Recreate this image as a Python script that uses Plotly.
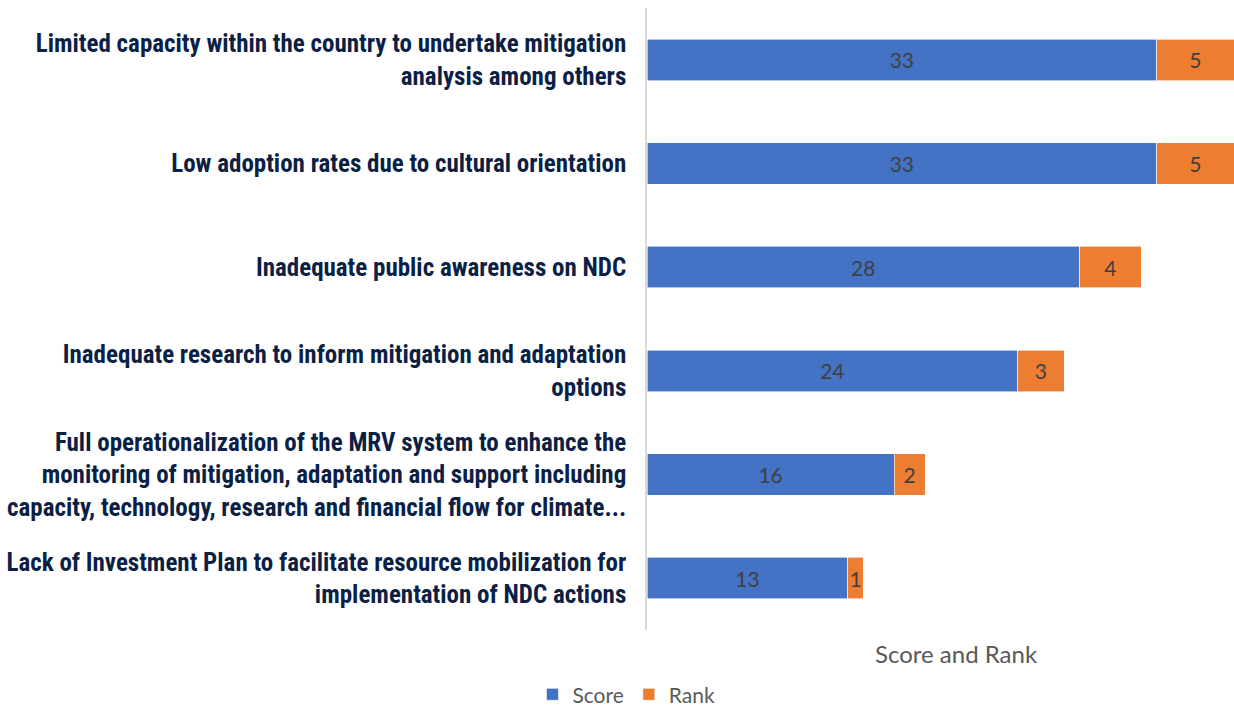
import plotly.graph_objects as go

# Challenges, listed top to bottom
categories = [
    "Limited capacity within the country to undertake mitigation<br>analysis among others",
    "Low adoption rates due to cultural orientation",
    "Inadequate public awareness on NDC",
    "Inadequate research to inform mitigation and adaptation<br>options",
    "Full operationalization of the MRV system to enhance the<br>monitoring of mitigation, adaptation and support including<br>capacity, technology, research and financial flow for climate...",
    "Lack of Investment Plan to facilitate resource mobilization for<br>implementation of NDC actions",
]
score = [33, 33, 28, 24, 16, 13]
rank = [5, 5, 4, 3, 2, 1]

BLUE = "#4472C4"
ORANGE = "#ED7D31"
BODY = "Lato, 'Open Sans', sans-serif"
LABEL_FONT = dict(family=BODY, size=21, color="#404040")

fig = go.Figure()
fig.add_trace(go.Bar(
    y=categories, x=score, name="Score", orientation="h",
    marker=dict(color=BLUE, line=dict(color="white", width=0.6)),
    text=score, textposition="inside", insidetextanchor="middle",
    textfont=LABEL_FONT, constraintext="none",
))
fig.add_trace(go.Bar(
    y=categories, x=rank, name="Rank", orientation="h",
    marker=dict(color=ORANGE, line=dict(color="white", width=0.6)),
    text=rank, textposition="inside", insidetextanchor="middle",
    textfont=LABEL_FONT, constraintext="none",
))

fig.update_layout(
    width=1234, height=710,
    barmode="stack", bargap=0.6,
    plot_bgcolor="white", paper_bgcolor="white",
    margin=dict(l=647, r=0, t=8, b=80, autoexpand=False),
    showlegend=True,
    legend=dict(
        orientation="h", x=-0.035, xanchor="center", y=-0.104, yanchor="middle",
        font=dict(family=BODY, size=21, color="#595959"),
        traceorder="normal",
    ),
    xaxis=dict(
        range=[0, 38], showticklabels=False, showgrid=False, zeroline=False,
        showline=False, ticks="", automargin=False,
    ),
    yaxis=dict(
        autorange="reversed", showgrid=False, zeroline=False,
        showline=True, linecolor="#d9d9d9", linewidth=1.5,
        ticks="", ticklabelstandoff=14, automargin=False,
        tickfont=dict(family="'Roboto Condensed', 'Open Sans Condensed', sans-serif",
                      size=25, weight="bold", color="#0c1f45"),
    ),
    annotations=[dict(
        text="Score and Rank", xref="paper", yref="paper",
        x=0.528, y=-0.037, xanchor="center", yanchor="middle", showarrow=False,
        font=dict(family=BODY, size=24, color="#595959"),
    )],
)

fig.write_html("out.html")
